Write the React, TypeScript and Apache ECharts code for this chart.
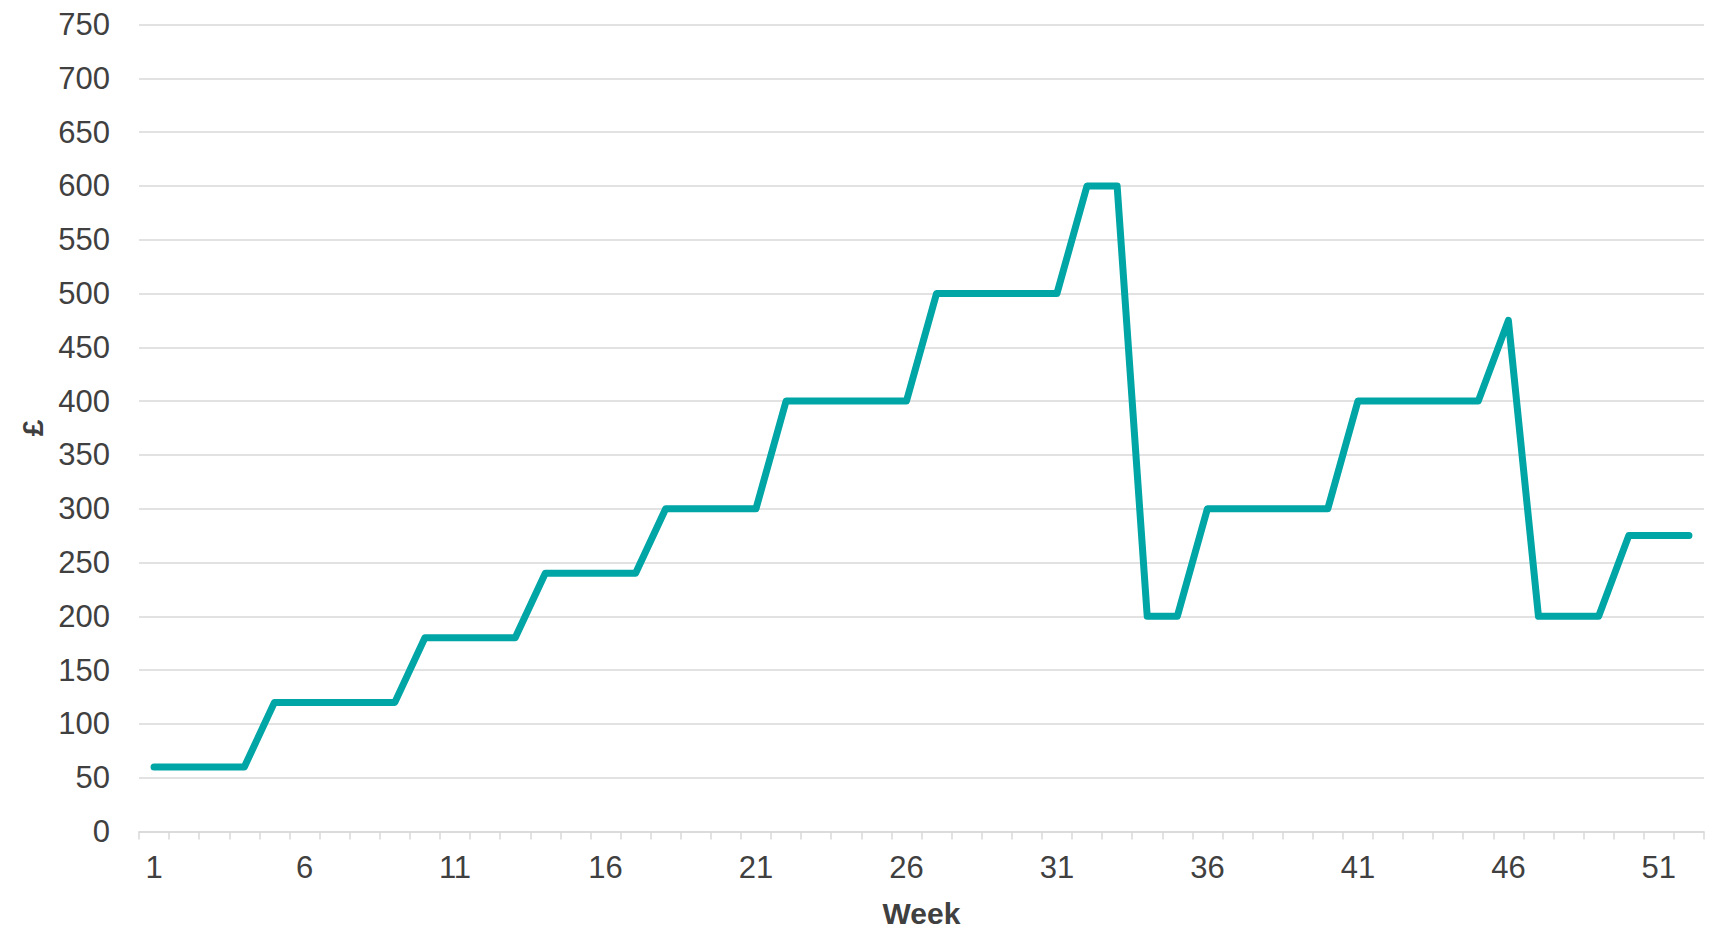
import React, { useEffect, useRef } from "react";
import * as echarts from "echarts";

// Weekly amounts in £, weeks 1 to 52
const weeks: string[] = Array.from({ length: 52 }, (_, i) => String(i + 1));
const amounts: number[] = [
  60, 60, 60, 60,
  120, 120, 120, 120, 120,
  180, 180, 180, 180,
  240, 240, 240, 240,
  300, 300, 300, 300,
  400, 400, 400, 400, 400,
  500, 500, 500, 500, 500,
  600, 600,
  200, 200,
  300, 300, 300, 300, 300,
  400, 400, 400, 400, 400,
  475,
  200, 200, 200,
  275, 275, 275,
];

const FONT = "'Liberation Sans', Arial, sans-serif";
const GRID = "#d9d9d9";
const TEXT = "#404040";

export default function App() {
  const ref = useRef<HTMLDivElement>(null);

  useEffect(() => {
    if (!ref.current) return;
    const chart = echarts.init(ref.current, undefined, { renderer: "svg" });
    chart.setOption({
      animation: false,
      backgroundColor: "#ffffff",
      textStyle: { fontFamily: FONT },
      grid: {
        left: 139,
        right: 17,
        top: 24.5,
        bottom: 97.5,
        containLabel: false,
        outerBoundsMode: "none",
      },
      xAxis: {
        type: "category",
        data: weeks,
        boundaryGap: true,
        name: "Week",
        nameLocation: "middle",
        nameGap: 67,
        nameTextStyle: {
          fontFamily: FONT,
          fontSize: 30,
          lineHeight: 30,
          fontWeight: "bold",
          color: TEXT,
        },
        axisLine: { lineStyle: { color: GRID, width: 1.5 } },
        axisTick: { show: true, interval: 0, length: 8, lineStyle: { color: GRID, width: 1.5 } },
        axisLabel: { interval: 4, margin: 20.5, fontSize: 31, color: TEXT, fontFamily: FONT },
        splitLine: { show: false },
      },
      yAxis: {
        type: "value",
        min: 0,
        max: 750,
        interval: 50,
        name: "£",
        nameLocation: "middle",
        nameRotate: 90,
        nameGap: 92,
        nameTextStyle: { fontFamily: FONT, fontSize: 30, fontWeight: "bold", color: TEXT },
        axisLine: { show: false },
        axisTick: { show: false },
        axisLabel: { margin: 29, fontSize: 31, color: TEXT, fontFamily: FONT },
        splitLine: { lineStyle: { color: GRID, width: 1.5 } },
      },
      series: [
        {
          type: "line",
          data: amounts,
          showSymbol: false,
          symbol: "none",
          lineStyle: { color: "#00a5a5", width: 7, cap: "round", join: "round" },
          itemStyle: { color: "#00a5a5" },
        },
      ],
    });
    return () => chart.dispose();
  }, []);

  return (
    <div
      ref={ref}
      style={{ position: "fixed", left: 0, top: 0, width: 1721, height: 929, background: "#fff" }}
    />
  );
}
